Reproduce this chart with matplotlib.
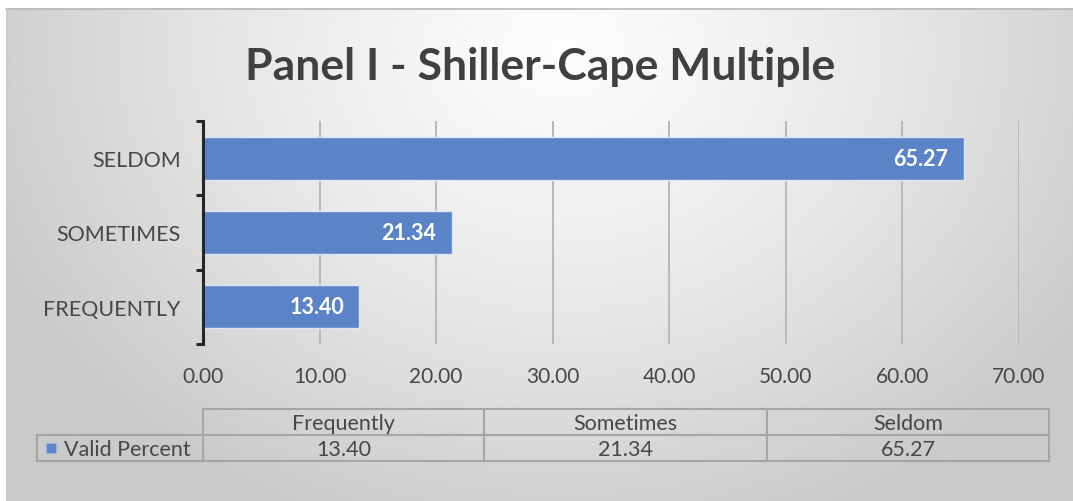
import numpy as np
import matplotlib
matplotlib.use("Agg")
import matplotlib.pyplot as plt
from matplotlib.patches import Rectangle

plt.rcParams['font.family'] = ['Lato', 'DejaVu Sans']

### Data
categories = ["FREQUENTLY", "SOMETIMES", "SELDOM"]
table_headers = ["Frequently", "Sometimes", "Seldom"]
values = [13.40, 21.34, 65.27]
series_name = "Valid Percent"
x_ticks = [0, 10, 20, 30, 40, 50, 60, 70]

W, H = 1073, 502
bar_color = "#5B84C8"
text_grey = "#474747"

fig = plt.figure(figsize=(W / 100, H / 100), dpi=100)
fig.patch.set_facecolor("white")

### Background panel in pixel coordinates
bg = fig.add_axes([0, 0, 1, 1])
bg.set_xlim(0, W)
bg.set_ylim(H, 0)
bg.axis("off")

# radial-ish grey gradient, lightest near top centre
yy, xx = np.mgrid[0:H, 0:W]
d = np.sqrt(((xx - 560) / 620.0) ** 2 + ((yy - 40) / 520.0) ** 2)
shade = 0.99 - 0.2 * np.clip(d, 0, 1) ** 1.3
bg.imshow(shade, cmap="gray", vmin=0, vmax=1, extent=(6, W, H, 9),
          aspect="auto", zorder=0)
bg.plot([6, W], [9.5, 9.5], color="#b8b8b8", lw=1.2, zorder=1)
bg.plot([6.5, 6.5], [9, H], color="#c8c8c8", lw=1.0, zorder=1)

### Title
fig.text(540 / W, 1 - 67 / H, "Panel I - Shiller-Cape Multiple",
         ha="center", va="center", fontsize=32, fontweight="bold",
         color="#404040")

### Data table
col_edges = [203, 484, 767, 1049]
row_y = [410, 436, 462]
leg_left = 37
grid_col = "#a6a6a6"

bg.plot([col_edges[0], col_edges[-1]], [row_y[0], row_y[0]], color=grid_col, lw=1.5)
bg.plot([leg_left, col_edges[-1]], [row_y[1], row_y[1]], color=grid_col, lw=1.5)
bg.plot([leg_left, col_edges[-1]], [row_y[2], row_y[2]], color=grid_col, lw=1.5)
bg.plot([leg_left, leg_left], [row_y[1], row_y[2]], color=grid_col, lw=1.5)
for xe in col_edges:
    bg.plot([xe, xe], [row_y[0], row_y[2]], color=grid_col, lw=1.5)

for i, (hdr, v) in enumerate(zip(table_headers, values)):
    cx = (col_edges[i] + col_edges[i + 1]) / 2
    bg.text(cx, (row_y[0] + row_y[1]) / 2 + 1, hdr, ha="center", va="center",
            fontsize=15.5, color=text_grey)
    bg.text(cx, (row_y[1] + row_y[2]) / 2 + 1, f"{v:.2f}", ha="center", va="center",
            fontsize=15.5, color=text_grey)

bg.add_patch(Rectangle((46, 444), 10, 10, facecolor=bar_color,
                       edgecolor="#9db5e0", lw=0.8))
bg.text(64, (row_y[1] + row_y[2]) / 2 + 1, series_name, ha="left", va="center",
        fontsize=15.5, color=text_grey)

### Bar chart
ax = fig.add_axes([203 / W, 1 - 345 / H, (1019 - 203) / W, (345 - 122) / H])
ax.patch.set_alpha(0)

y = np.arange(len(categories))
bars = ax.barh(y, values, height=0.58, color=bar_color,
               edgecolor="#dce6f5", linewidth=1.0, zorder=3)

for b, v in zip(bars, values):
    ax.annotate(f"{v:.2f}", (b.get_width(), b.get_y() + b.get_height() / 2),
                xytext=(-11, 0), textcoords="offset points",
                ha="right", va="center", color="white",
                fontsize=15.5, fontweight="bold", zorder=4)

ax.set_xlim(0, 70)
ax.set_ylim(-0.5, len(categories) - 0.5)
ax.set_xticks(x_ticks)
ax.set_xticklabels([f"{t:.2f}" for t in x_ticks], fontsize=15, color=text_grey)
ax.set_yticks(y)
ax.set_yticklabels(categories, fontsize=15.5, color=text_grey)
ax.set_yticks(np.arange(-0.5, len(categories)), minor=True)
ax.tick_params(axis="y", which="major", length=0, pad=16)
ax.tick_params(axis="y", which="minor", length=5, width=2.2, color="#262626")
ax.tick_params(axis="x", length=0, pad=16)

ax.grid(axis="x", color="#b8b8b8", lw=1.4, zorder=0)
for s in ["top", "right", "bottom"]:
    ax.spines[s].set_visible(False)
ax.spines["left"].set_color("#262626")
ax.spines["left"].set_linewidth(2.2)
ax.spines["left"].set_zorder(5)

fig.savefig("out.png", dpi=100)
